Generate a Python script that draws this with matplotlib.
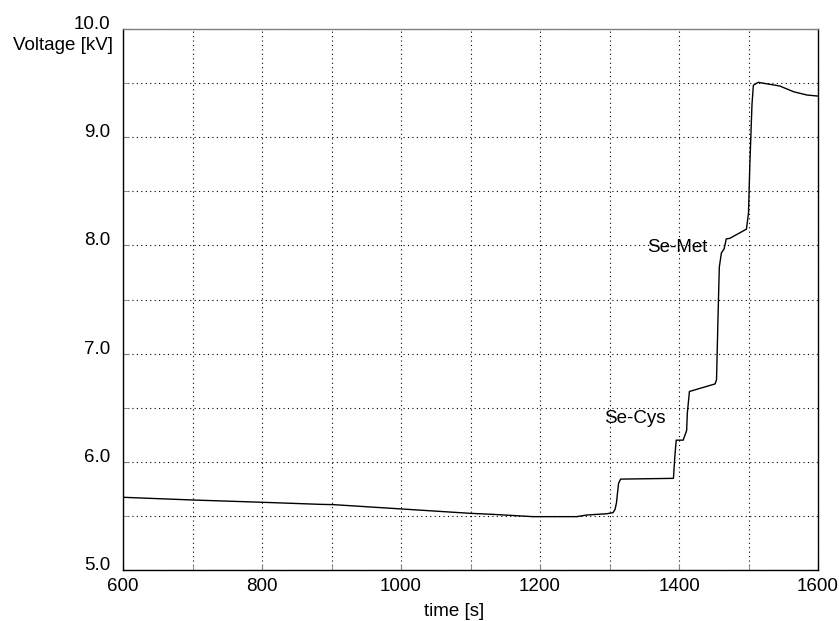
import matplotlib
matplotlib.use("Agg")
import matplotlib.pyplot as plt
from matplotlib.ticker import MultipleLocator, FormatStrFormatter

plt.rcParams["font.family"] = ["Liberation Sans", "DejaVu Sans"]

# voltage trace
time_s = [600, 700, 800, 883, 903, 1001, 1099, 1133, 1190, 1253, 1267, 1296,
          1305, 1308, 1310, 1313, 1316, 1392, 1394, 1396, 1406, 1411, 1412,
          1415, 1452, 1454, 1456, 1458, 1461, 1465, 1468, 1473, 1497, 1500,
          1502, 1505, 1507, 1514, 1545, 1565, 1584, 1600]
voltage_kv = [5.672, 5.647, 5.626, 5.607, 5.604, 5.564, 5.524, 5.514, 5.493,
              5.493, 5.508, 5.52, 5.53, 5.56, 5.62, 5.80, 5.84, 5.847, 6.05,
              6.20, 6.20, 6.29, 6.45, 6.65, 6.72, 6.76, 7.30, 7.80, 7.93,
              7.97, 8.06, 8.065, 8.15, 8.30, 8.76, 9.30, 9.48, 9.507, 9.473,
              9.42, 9.39, 9.38]

annotations = [("Se-Met", 1398, 7.985), ("Se-Cys", 1337, 6.40)]

FS = 13.5

fig = plt.figure(figsize=(8.39, 6.21), dpi=100)
ax = fig.add_axes([123 / 839, 1 - 570 / 621, (818 - 123) / 839, (570 - 29) / 621])

ax.plot(time_s, voltage_kv, color="black", lw=1.0)

for label, t, v in annotations:
    ax.text(t, v, label, ha="center", va="center", fontsize=FS)

ax.set_xlim(600, 1600)
ax.set_ylim(5.0, 10.0)
ax.xaxis.set_major_locator(MultipleLocator(200))
ax.xaxis.set_minor_locator(MultipleLocator(100))
ax.yaxis.set_major_locator(MultipleLocator(1.0))
ax.yaxis.set_minor_locator(MultipleLocator(0.5))
ax.yaxis.set_major_formatter(FormatStrFormatter("%.1f"))
ax.grid(True, which="both", color="black", linestyle=(0, (1, 3)), linewidth=0.8)
ax.tick_params(which="both", direction="in", length=4, labelsize=FS, color="gray")
ax.tick_params(axis="y", pad=9)
ax.tick_params(axis="x", pad=6)
for lab in ax.get_yticklabels():
    lab.set_va("baseline")
for s in ax.spines.values():
    s.set_linewidth(1.0)
ax.spines["top"].set_color("gray")

fig.text(454 / 839, 1 - 611 / 621, "time [s]", ha="center", va="center", fontsize=FS)
fig.text(113 / 839, 1 - 46 / 621, "Voltage [kV]", ha="right", va="center", fontsize=FS)

fig.savefig("out.png", dpi=100)
